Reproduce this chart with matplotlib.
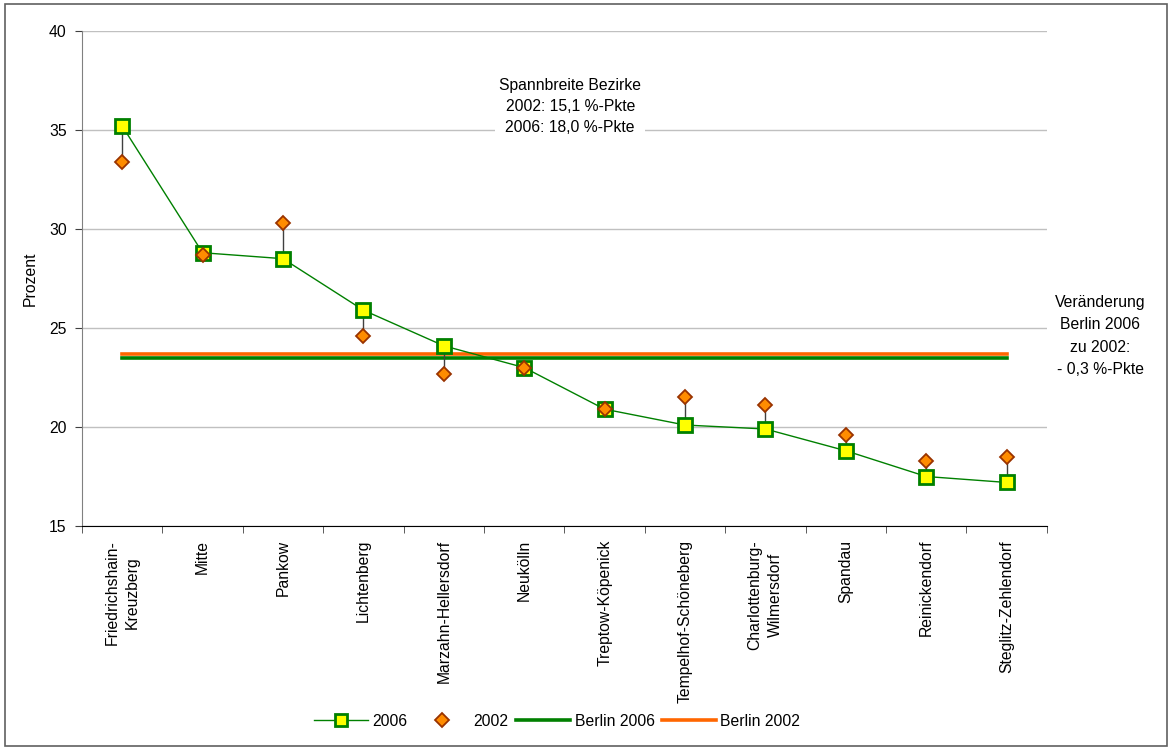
import matplotlib
matplotlib.use("Agg")
import matplotlib.pyplot as plt
from matplotlib.lines import Line2D
from matplotlib.patches import Rectangle
import numpy as np

plt.rcParams['font.family'] = ['Liberation Sans', 'DejaVu Sans']

districts = [
    "Friedrichshain-\nKreuzberg", "Mitte", "Pankow", "Lichtenberg",
    "Marzahn-Hellersdorf", "Neukölln", "Treptow-Köpenick",
    "Tempelhof-Schöneberg", "Charlottenburg-\nWilmersdorf", "Spandau",
    "Reinickendorf", "Steglitz-Zehlendorf",
]
values_2006 = [35.2, 28.8, 28.5, 25.9, 24.1, 23.0, 20.9, 20.1, 19.9, 18.8, 17.5, 17.2]
values_2002 = [33.4, 28.7, 30.3, 24.6, 22.7, 23.0, 20.9, 21.5, 21.1, 19.6, 18.3, 18.5]
berlin_2006 = 23.5
berlin_2002 = 23.7
y_ticks = [15, 20, 25, 30, 35, 40]

FS = 11.3

fig = plt.figure(figsize=(11.71, 7.49), dpi=100)
fig.patches.append(Rectangle((0.004, 0.004), 0.993, 0.990, transform=fig.transFigure,
                             fill=False, edgecolor='#606060', linewidth=1.2))
ax = fig.add_axes([0.070, 0.2977, 0.824, 0.661])

x = np.arange(len(districts))

# high-low connectors between the two years
for xi, a, b in zip(x, values_2006, values_2002):
    ax.plot([xi, xi], [a, b], color='#404040', linewidth=1.0, zorder=3)

ax.plot([x[0], x[-1]], [berlin_2006, berlin_2006], color='#008000', linewidth=2.6, zorder=2)
ax.plot([x[0], x[-1]], [berlin_2002, berlin_2002], color='#FF6600', linewidth=2.6, zorder=2)

ax.plot(x, values_2006, color='#008000', linewidth=1.0, marker='s', markersize=10.5,
        markerfacecolor='#FFFF00', markeredgecolor='#008000', markeredgewidth=2.0, zorder=4)
ax.plot(x, values_2002, linestyle='none', marker='D', markersize=7,
        markerfacecolor='#FF8C00', markeredgecolor='#993300', markeredgewidth=1.3, zorder=5)

ax.set_xlim(-0.5, len(districts) - 0.5)
ax.set_ylim(15, 40)
ax.set_yticks(y_ticks)
ax.set_yticklabels([str(v) for v in y_ticks], fontsize=FS)
ax.yaxis.grid(True, color='#C0C0C0', linewidth=1.0)
ax.set_axisbelow(True)

ax.set_xticks(x)
ax.set_xticklabels(districts, rotation=90, fontsize=FS, va='top', ha='center',
                   multialignment='center', linespacing=1.45)
ax.tick_params(axis='x', which='major', length=0, pad=10)
ax.set_xticks(np.arange(-0.5, len(districts), 1.0), minor=True)
ax.tick_params(axis='x', which='minor', length=5, direction='out', color='#404040')
ax.tick_params(axis='y', length=5, direction='out', color='#404040', pad=6)

ax.spines['top'].set_visible(False)
ax.spines['right'].set_visible(False)
ax.spines['left'].set_color('#808080')
ax.spines['bottom'].set_color('#000000')

ax.set_ylabel('Prozent', fontsize=FS, labelpad=8)

ax.text(0.506, 0.905, "Spannbreite Bezirke\n2002: 15,1 %-Pkte\n2006: 18,0 %-Pkte",
        transform=ax.transAxes, ha='center', va='top', fontsize=FS, linespacing=1.52,
        bbox=dict(facecolor='white', edgecolor='none', pad=3))
fig.text(0.9395, 0.606, "Veränderung\nBerlin 2006\nzu 2002:\n- 0,3 %-Pkte",
         ha='center', va='top', fontsize=FS, linespacing=1.6)

handles = [
    Line2D([], [], color='#008000', linewidth=1.0, marker='s', markersize=8,
           markerfacecolor='#FFFF00', markeredgecolor='#008000', markeredgewidth=2.0),
    Line2D([], [], linestyle='none', marker='D', markersize=7,
           markerfacecolor='#FF8C00', markeredgecolor='#993300', markeredgewidth=1.3),
    Line2D([], [], color='#008000', linewidth=2.6),
    Line2D([], [], color='#FF6600', linewidth=2.6),
]
fig.legend(handles, ['2006', '2002', 'Berlin 2006', 'Berlin 2002'],
           loc='center', bbox_to_anchor=(0.476, 0.037), ncol=4, frameon=False,
           fontsize=FS, handlelength=3.4, columnspacing=0.5, handletextpad=0.3)

fig.savefig('out.png', dpi=100)
